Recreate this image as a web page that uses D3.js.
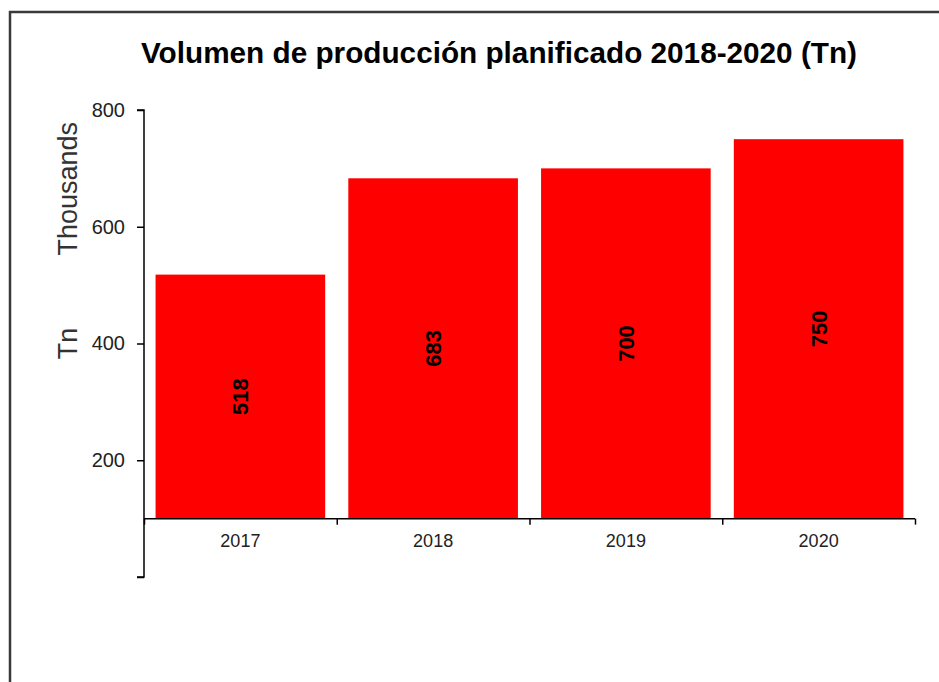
<!DOCTYPE html>
<html>
<head>
<meta charset="utf-8">
<script src="https://cdn.jsdelivr.net/npm/d3@7"></script>
<style>
  body { margin: 0; background: #fff; }
  svg { display: block; font-family: "Liberation Sans", Arial, sans-serif; }
</style>
</head>
<body>
<div id="chart"></div>
<script>
// data
const years = ['2017', '2018', '2019', '2020']
const volumes = [518, 683, 700, 750]   // thousands of Tn
const yTicks = [0, 200, 400, 600, 800]
const yLabelled = [200, 400, 600, 800]
const axisBase = 100                    // category axis crosses here

const width = 939
const height = 682

const svg = d3.select('#chart').append('svg')
    .attr('width', width)
    .attr('height', height)

// chart frame (only left and top edges show in the crop)
svg.append('path')
    .attr('d', `M10,${height + 5} L10,12 L${width + 5},12`)
    .attr('fill', 'none')
    .attr('stroke', '#3a3a3a')
    .attr('stroke-width', 2.5)

const y = d3.scaleLinear()
    .domain([0, 800])
    .range([577, 110])

const x = d3.scaleBand()
    .domain(years)
    .range([144, 915])
    .paddingInner(0.12)
    .paddingOuter(0.06)

// boundaries between categories for the tick marks
const xEdge = d3.scaleLinear()
    .domain([0, years.length])
    .range([144, 915])

const rows = years.map((yr, i) => ({year: yr, value: volumes[i]}))

svg.selectAll('rect.bar')
    .data(rows)
    .enter()
    .append('rect')
    .attr('class', 'bar')
    .attr('x', d => x(d.year))
    .attr('y', d => y(d.value))
    .attr('width', x.bandwidth())
    .attr('height', d => y(axisBase) - y(d.value))
    .attr('fill', '#ff0000')

// value labels, rotated inside bars
svg.selectAll('text.val')
    .data(rows)
    .enter()
    .append('text')
    .attr('class', 'val')
    .attr('transform', d => `translate(${x(d.year) + x.bandwidth() / 2}, ${(y(d.value) + y(axisBase)) / 2}) rotate(-90)`)
    .attr('text-anchor', 'middle')
    .attr('dy', '0.36em')
    .attr('font-size', 22)
    .attr('font-weight', 'bold')
    .attr('fill', '#000')
    .text(d => d.value)

// y axis
const yAxis = d3.axisLeft(y)
    .tickValues(yTicks)
    .tickSize(7)
    .tickPadding(12)
    .tickFormat(v => yLabelled.includes(v) ? v : '')

const gy = svg.append('g')
    .attr('transform', 'translate(144,0)')
    .call(yAxis)
gy.select('.domain').attr('d', `M-7,${y(0)}H0V${y(800)}H-7`).attr('stroke', '#000').attr('stroke-width', 1.5)
gy.selectAll('.tick line').attr('stroke', '#000').attr('stroke-width', 1.5)
gy.selectAll('.tick text')
    .attr('font-size', 20)
    .attr('font-family', '"Liberation Sans", Arial, sans-serif')
    .attr('fill', '#222')

// x axis at value 100: tick marks at the category edges, labels at centres
const gxTicks = svg.append('g')
    .attr('transform', `translate(0,${y(axisBase)})`)
    .call(d3.axisBottom(xEdge).tickValues(d3.range(years.length + 1)).tickSize(6).tickFormat(''))
gxTicks.select('.domain').attr('d', `M144,0H915`).attr('stroke', '#000').attr('stroke-width', 1.5)
gxTicks.selectAll('.tick line').attr('stroke', '#000').attr('stroke-width', 1.5)

const gx = svg.append('g')
    .attr('transform', `translate(0,${y(axisBase)})`)
    .call(d3.axisBottom(x).tickSize(0).tickPadding(16))
gx.select('.domain').remove()
gx.selectAll('.tick text')
    .attr('font-size', 18)
    .attr('font-family', '"Liberation Sans", Arial, sans-serif')
    .attr('fill', '#222')

// axis titles
svg.append('text')
    .attr('transform', 'translate(77,122) rotate(-90)')
    .attr('text-anchor', 'end')
    .attr('font-size', 27)
    .attr('fill', '#333')
    .text('Thousands')

svg.append('text')
    .attr('transform', `translate(77,${(y(0) + y(800)) / 2}) rotate(-90)`)
    .attr('text-anchor', 'middle')
    .attr('font-size', 27)
    .attr('fill', '#333')
    .text('Tn')

// title
svg.append('text')
    .attr('x', 499)
    .attr('y', 63)
    .attr('text-anchor', 'middle')
    .attr('font-size', 29)
    .attr('font-weight', 'bold')
    .attr('textLength', 716)
    .attr('lengthAdjust', 'spacingAndGlyphs')
    .attr('fill', '#000')
    .text('Volumen de producción planificado 2018-2020 (Tn)')
</script>
</body>
</html>
